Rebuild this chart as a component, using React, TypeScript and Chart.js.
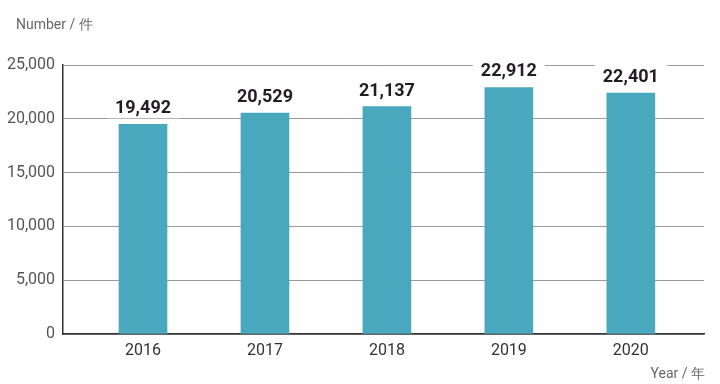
import React, { useEffect, useRef } from "react";
import { Chart, registerables } from "chart.js";

Chart.register(...registerables);

const years = ["2016", "2017", "2018", "2019", "2020"];
const counts = [19492, 20529, 21137, 22912, 22401];
const yTicks = [0, 5000, 10000, 15000, 20000, 25000];

const fmt = (v: number) => v.toLocaleString("en-US");

const labelPlugin = {
  id: "barLabels",
  afterDatasetsDraw(chart: any) {
    const ctx = chart.ctx;
    const meta = chart.getDatasetMeta(0);
    ctx.save();
    ctx.font = "bold 18px Roboto";
    ctx.textAlign = "center";
    ctx.textBaseline = "alphabetic";
    meta.data.forEach((bar: any, i: number) => {
      const text = fmt(counts[i]);
      const w = ctx.measureText(text).width;
      const base = bar.y - 11;
      ctx.fillStyle = "#ffffff";
      ctx.fillRect(bar.x - w / 2 - 8, base - 17, w + 16, 22);
      ctx.fillStyle = "#251c22";
      ctx.fillText(text, bar.x, base);
    });
    ctx.restore();
  },
  afterDraw(chart: any) {
    const ctx = chart.ctx;
    ctx.save();
    ctx.font = "14px Roboto";
    ctx.fillStyle = "#666666";
    ctx.textBaseline = "middle";
    ctx.textAlign = "left";
    ctx.fillText("Number / 件", 16, 25);
    ctx.textAlign = "right";
    ctx.fillText("Year / 年", 705, 374);
    ctx.restore();
  },
};

export default function App() {
  const ref = useRef<HTMLCanvasElement>(null);
  useEffect(() => {
    document.body.style.margin = "0";
    const chart = new Chart(ref.current!, {
      type: "bar",
      data: {
        datasets: [
          {
            data: counts.map((c, i) => ({ x: i, y: c })),
            backgroundColor: "#4aa8be",
            barThickness: 48,
          },
        ],
      },
      plugins: [labelPlugin],
      options: {
        animation: false,
        responsive: false,
        maintainAspectRatio: false,
        layout: { padding: { left: 0, right: 16, top: 65, bottom: 0 } },
        plugins: { legend: { display: false }, tooltip: { enabled: false } },
        scales: {
          x: {
            type: "linear",
            offset: false,
            min: -0.656,
            max: 4.6,
            grid: { display: false, drawTicks: false, offset: false },
            border: { color: "#333333", width: 1.5 },
            afterFit: (s: any) => {
              s.height = 50;
            },
            afterBuildTicks: (s: any) => {
              s.ticks = years.map((_, i) => ({ value: i }));
            },
            ticks: {
              autoSkip: false,
              padding: 7,
              color: "#333333",
              font: { family: "Roboto", size: 16 },
              callback: (v: any) => years[v] ?? "",
            },
          },
          y: {
            min: 0,
            max: 25000,
            afterFit: (s: any) => {
              s.width = 63;
            },
            afterBuildTicks: (s: any) => {
              s.ticks = yTicks.map((v) => ({ value: v }));
            },
            grid: { color: "#9a9a9a", lineWidth: 1, drawTicks: false },
            border: { color: "#333333", width: 1.5 },
            ticks: {
              padding: 8,
              color: "#555555",
              font: { family: "Roboto", size: 16 },
              callback: (v: any) => fmt(Number(v)),
            },
          },
        },
      },
    });
    return () => chart.destroy();
  }, []);
  return (
    <div style={{ width: 720, height: 384, background: "#ffffff" }}>
      <canvas ref={ref} width={720} height={384} />
    </div>
  );
}
